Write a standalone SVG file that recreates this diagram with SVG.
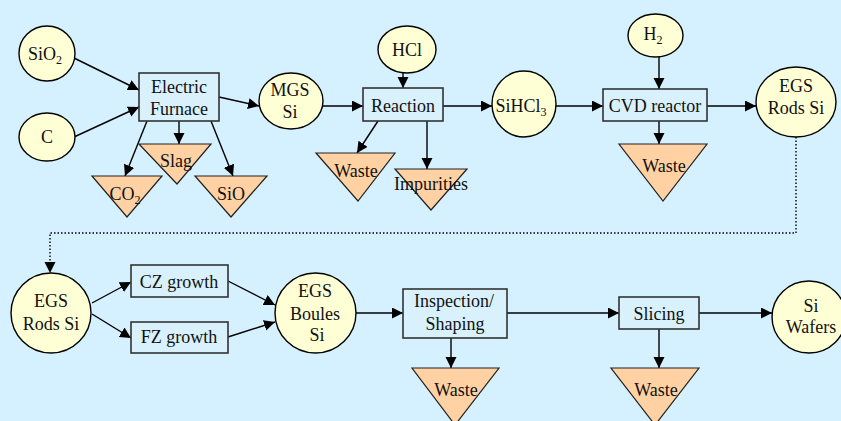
<svg xmlns="http://www.w3.org/2000/svg" width="841" height="421" viewBox="0 0 841 421" font-family="'Liberation Serif', 'Times New Roman', 'DejaVu Serif', serif">
<defs>
<marker id="ah" markerUnits="userSpaceOnUse" markerWidth="12" markerHeight="12" refX="11" refY="5.5" orient="auto">
<path d="M0,0 L11,5.5 L0,11 z" fill="#000"/>
</marker>
<style>
.bg{fill:#d5f0ff}
.ell{fill:#ffffd5;stroke:#000;stroke-width:1.4}
.box{fill:#d8f1fd;stroke:#333;stroke-width:1.6}
.tri{fill:#ffd1a3;stroke:#222;stroke-width:1.2}
text{font-family:'Liberation Serif', 'Times New Roman', 'DejaVu Serif', serif;font-size:18px;fill:#111;text-anchor:middle}
.sub{font-size:12px}
.c line,.c polyline{stroke:#000;stroke-width:1.4;fill:none}
.c .a{marker-end:url(#ah)}
.dot{stroke-dasharray:1.5 2;stroke-width:1.2}
</style>
</defs>
<rect class="bg" x="0" y="0" width="841" height="421"/>

<g id="connectors" class="c">
<line class="a" x1="74" y1="58" x2="139" y2="90"/>
<line class="a" x1="74" y1="137" x2="139" y2="107"/>
<line class="a" x1="147" y1="121" x2="125" y2="176"/>
<line class="a" x1="179" y1="121" x2="179" y2="144"/>
<line class="a" x1="211" y1="121" x2="233" y2="176"/>
<line class="a" x1="219" y1="97" x2="259" y2="106"/>
<line class="a" x1="323" y1="106" x2="363" y2="106"/>
<line class="a" x1="403" y1="73" x2="403" y2="88"/>
<line class="a" x1="378" y1="121" x2="357" y2="153"/>
<line class="a" x1="427" y1="121" x2="427" y2="169"/>
<line class="a" x1="443" y1="106" x2="492" y2="106"/>
<line class="a" x1="556" y1="106" x2="603" y2="106"/>
<line class="a" x1="659" y1="57" x2="659" y2="89"/>
<line class="a" x1="659" y1="121" x2="659" y2="144"/>
<line class="a" x1="707" y1="106" x2="756" y2="106"/>
<polyline class="a dot" points="796,137 796,233 50,233 50,273"/>
<line class="a" x1="92" y1="303" x2="131" y2="282"/>
<line class="a" x1="92" y1="314" x2="131" y2="338"/>
<line class="a" x1="228" y1="281" x2="275" y2="305"/>
<line class="a" x1="228" y1="337" x2="275" y2="322"/>
<line class="a" x1="356" y1="313" x2="403" y2="313"/>
<line class="a" x1="451" y1="338" x2="451" y2="368"/>
<line class="a" x1="507" y1="313" x2="619" y2="313"/>
<line class="a" x1="659" y1="329" x2="659" y2="368"/>
<line class="a" x1="699" y1="313" x2="772" y2="313"/>
</g>

<g id="sio2"><ellipse class="ell" cx="47" cy="53.5" rx="28" ry="27.5"/><text x="45" y="60">SiO<tspan class="sub" dy="4">2</tspan></text></g>
<g id="c"><ellipse class="ell" cx="47" cy="137" rx="28" ry="24"/><text x="47" y="143">C</text></g>
<g id="furnace"><rect class="box" x="139" y="73" width="80" height="48"/><text x="179" y="93">Electric</text><text x="179" y="115">Furnace</text></g>
<g id="slag"><polygon class="tri" points="139,144 211,144 177,184"/><text x="176" y="167">Slag</text></g>
<g id="co2"><polygon class="tri" points="92,176 162,176 127,217"/><text x="125" y="200">CO<tspan class="sub" dy="4">2</tspan></text></g>
<g id="sio"><polygon class="tri" points="195,176 267,176 231,217"/><text x="231" y="200">SiO</text></g>
<g id="mgs"><ellipse class="ell" cx="291" cy="101" rx="32" ry="28"/><text x="290" y="96">MGS</text><text x="290" y="118">Si</text></g>
<g id="hcl"><ellipse class="ell" cx="407" cy="49.5" rx="29" ry="23.5"/><text x="407" y="56">HCl</text></g>
<g id="reaction"><rect class="box" x="363" y="88" width="80" height="33"/><text x="403" y="112">Reaction</text></g>
<g id="waste1"><polygon class="tri" points="316,153 395,153 358,201"/><text x="356" y="177">Waste</text></g>
<g id="impurities"><polygon class="tri" points="395,169 467,169 431,210"/><text x="431" y="190">Impurities</text></g>
<g id="sihcl3"><ellipse class="ell" cx="524" cy="104" rx="32" ry="33"/><text x="521" y="112">SiHCl<tspan class="sub" dy="4">3</tspan></text></g>
<g id="h2"><ellipse class="ell" cx="655.5" cy="35.5" rx="27.5" ry="21.5"/><text x="653" y="40">H<tspan class="sub" dy="4">2</tspan></text></g>
<g id="cvd"><rect class="box" x="603" y="89" width="104" height="32"/><text x="655" y="112">CVD reactor</text></g>
<g id="waste2"><polygon class="tri" points="619,144 707,144 663,201"/><text x="664" y="172">Waste</text></g>
<g id="egs1"><ellipse class="ell" cx="796" cy="102" rx="40" ry="35"/><text x="796" y="92">EGS</text><text x="796" y="114">Rods Si</text></g>

<g id="egs2"><ellipse class="ell" cx="51" cy="313" rx="40" ry="40"/><text x="51" y="307">EGS</text><text x="51" y="330">Rods Si</text></g>
<g id="cz"><rect class="box" x="131" y="265" width="97" height="32"/><text x="179" y="288">CZ growth</text></g>
<g id="fz"><rect class="box" x="131" y="322" width="97" height="31"/><text x="179" y="343">FZ growth</text></g>
<g id="boules"><ellipse class="ell" cx="315.5" cy="313" rx="40.5" ry="40"/><text x="315" y="297">EGS</text><text x="315" y="320">Boules</text><text x="317" y="341">Si</text></g>
<g id="inspection"><rect class="box" x="403" y="289" width="104" height="49"/><text x="454" y="307">Inspection/</text><text x="455" y="330">Shaping</text></g>
<g id="waste3"><polygon class="tri" points="412,368 499,368 455,425"/><text x="456" y="396">Waste</text></g>
<g id="slicing"><rect class="box" x="619" y="297" width="80" height="32"/><text x="659" y="320">Slicing</text></g>
<g id="waste4"><polygon class="tri" points="611,368 699,368 655,425"/><text x="656" y="396">Waste</text></g>
<g id="wafers"><ellipse class="ell" cx="809" cy="317" rx="37" ry="36"/><text x="811" y="312">Si</text><text x="811" y="333">Wafers</text></g>
</svg>
